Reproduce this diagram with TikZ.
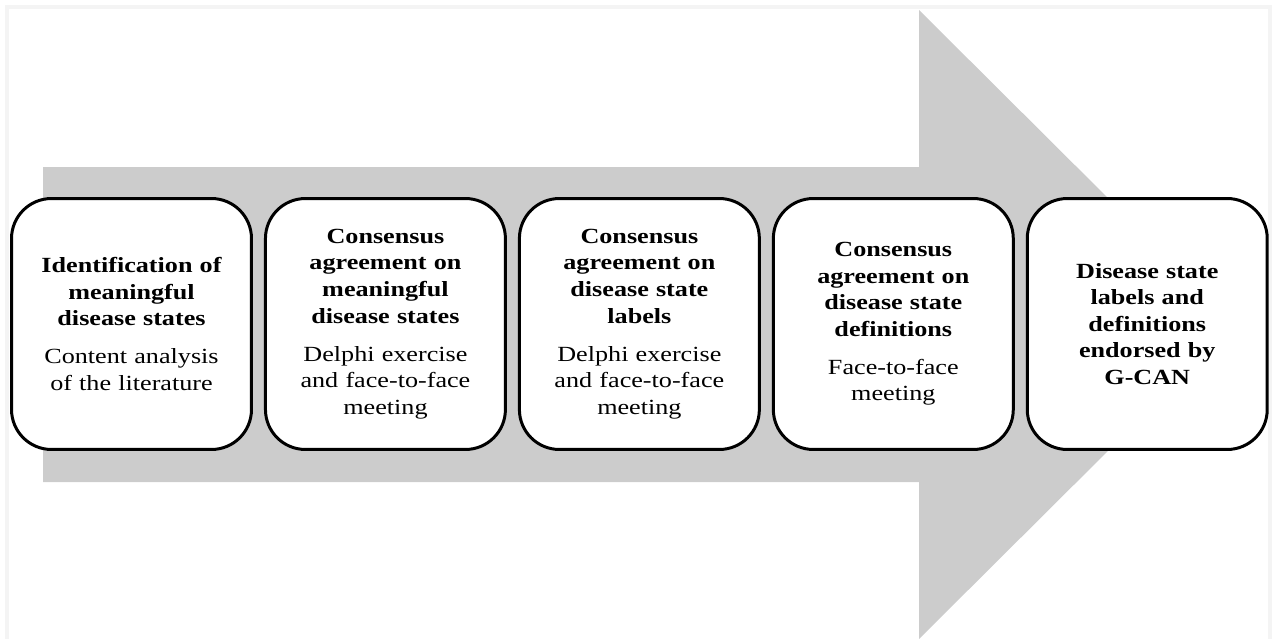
\documentclass[tikz,border=0pt]{standalone}
\usepackage{fontspec}
\setmainfont[FakeStretch=1.21]{Liberation Serif}
\usetikzlibrary{positioning}
\definecolor{shaftgray}{HTML}{CCCCCC}
\definecolor{framegray}{HTML}{F4F4F4}

\begin{document}
\begin{tikzpicture}[x=0.02cm,y=-0.02cm]

\tikzset{stagebox/.style={draw,line width=1.7pt,rounded corners=0.8cm,fill=white,minimum width=4.8cm,minimum height=5.02cm,text width=4.5cm,align=center,font=\fontsize{12.3}{15.1}\selectfont}}

\useasboundingbox (0,0) rectangle (1275,639);
\draw[framegray,line width=2.5pt] (7,660)--(7,7)--(1270,7)--(1270,660);

% big grey arrow behind the stages
\fill[shaftgray] (43,167)--(919,167)--(919,10)--(1235,324.5)--(919,639)--(919,482)--(43,482)--cycle;

%===================================================================
\node[stagebox] at (131.5,324) [name=st1] {\bfseries Identification of\\ meaningful\\ disease states\\[6.6pt] \mdseries Content analysis\\ of the literature};
\node[stagebox,right=0.22cm of st1,name=st2] {\bfseries Consensus\\ agreement on\\ meaningful\\ disease states\\[6.6pt] \mdseries Delphi exercise\\ and face-to-face\\ meeting};
\node[stagebox,right=0.22cm of st2,name=st3] {\bfseries Consensus\\ agreement on\\ disease state\\ labels\\[6.6pt] \mdseries Delphi exercise\\ and face-to-face\\ meeting};
\node[stagebox,right=0.22cm of st3,name=st4] {\bfseries Consensus\\ agreement on\\ disease state\\ definitions\\[6.6pt] \mdseries Face-to-face\\ meeting};
\node[stagebox,right=0.22cm of st4,name=st5] {\bfseries Disease state\\ labels and\\ definitions\\ endorsed by\\ G-CAN};

\end{tikzpicture}
\end{document}
